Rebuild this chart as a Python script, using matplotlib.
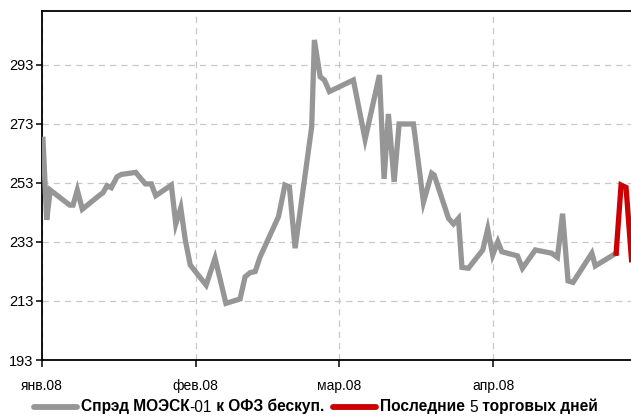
import matplotlib
matplotlib.use("Agg")
import matplotlib.pyplot as plt
from matplotlib.lines import Line2D
import pandas as pd

plt.rcParams['font.family'] = ['Liberation Sans Narrow', 'Liberation Sans', 'DejaVu Sans']

start_date = "2008-01-01"
# day offsets from start date and spread values (bp)
spread_days = [0.2, 0.95, 1.67, 5.59, 6.26, 7.12, 8.13, 11.64, 12.31, 13.12, 13.98,
               15.13, 16.0, 18.9, 20.84, 22.05, 22.94, 26.09, 26.98, 27.99, 28.9,
               29.9, 33.1, 34.9, 37.1, 39.95, 40.96, 41.97, 43.0, 44.0, 47.7,
               49.0, 49.9, 51.05, 54.4, 54.94, 56.1, 56.96, 57.97, 62.8, 65.17,
               68.06, 69.0, 69.87, 71.03, 72.03, 74.92, 76.94, 78.6, 79.1, 82.0,
               83.0, 84.0, 84.7, 86.0, 88.9, 89.9, 90.9, 91.95, 92.75, 95.9,
               96.9, 99.5, 102.8, 103.96, 105.0, 106.1, 107.1, 110.9, 111.6, 115.8]
spread_vals = [267.8, 240.5, 250.6, 245.5, 245.5, 250.6, 244.1, 248.9, 249.7, 252.1, 251.4,
               255.1, 255.9, 256.6, 252.7, 252.7, 248.7, 252.3, 239.1, 244.6, 233.7,
               225.2, 218.4, 227.5, 212.2, 213.7, 221.2, 222.6, 223.0, 228.0, 241.6,
               252.3, 251.7, 230.9, 272.1, 301.5, 289.0, 287.9, 284.0, 287.9, 267.8,
               289.6, 254.4, 276.4, 253.4, 273.0, 273.0, 246.5, 256.3, 255.7, 241.0,
               239.1, 241.0, 224.4, 224.1, 230.3, 237.4, 228.6, 233.1, 229.7, 228.3,
               224.1, 230.3, 229.2, 227.8, 242.6, 219.8, 219.3, 229.2, 224.9, 229.2]
last_days = [115.8, 116.8, 117.8, 118.9]
last_vals = [229.2, 252.3, 251.5, 227.0]

y_ticks = [193, 213, 233, 253, 273, 293]
month_ticks = ["2008-01-01", "2008-02-01", "2008-03-01", "2008-04-01"]
month_labels = ["янв.08", "фев.08", "мар.08", "апр.08"]
# legend label pieces: (text, bold?)
label_spread = [("Спрэд МОЭСК", True), ("-01", False), (" к ОФЗ бескуп.", True)]
label_last = [("Последние ", True), ("5", False), (" торговых дней", True)]

t0 = pd.Timestamp(start_date)
x_spread = [t0 + pd.Timedelta(days=d) for d in spread_days]
x_last = [t0 + pd.Timedelta(days=d) for d in last_days]

W, H = 631, 417
fig = plt.figure(figsize=(W / 100, H / 100), dpi=100)
ax = fig.add_axes([42 / W, 1 - 360 / H, 1 - 42 / W, (360 - 11) / H])

gray = "#969696"
red = "#cc0000"
lw = 3.8
ax.plot(x_spread, spread_vals, color=gray, lw=lw, solid_joinstyle='miter', zorder=3)
ax.plot(x_last, last_vals, color=red, lw=lw, solid_joinstyle='miter', zorder=4)

ax.set_ylim(193, 311.3)
ax.set_xlim(t0, t0 + pd.Timedelta(days=118.8))
ax.set_yticks(y_ticks)
ax.set_yticklabels([str(v) for v in y_ticks], fontsize=10.5)
ax.set_xticks([pd.Timestamp(m) for m in month_ticks])
ax.set_xticklabels(month_labels, fontsize=10)

ax.grid(True, color="#c8c8c8", linestyle=(0, (5, 4)), linewidth=0.9)
ax.set_axisbelow(True)
for s in ["left", "bottom", "top"]:
    ax.spines[s].set_linewidth(1.3)
    ax.spines[s].set_color("black")
ax.spines["right"].set_visible(False)
ax.tick_params(axis='y', direction='out', length=4, width=1.1, pad=2)
ax.tick_params(axis='x', direction='out', length=5, width=1.1, pad=9)

# manual legend with mixed-weight labels
leg_y = 1 - 407 / H
fs = 11.2


def chain(x_px, color, pieces):
    fig.add_artist(Line2D([x_px / W, (x_px + 43) / W], [leg_y, leg_y], color=color,
                          lw=4.2, solid_capstyle='round', transform=fig.transFigure))
    prev = fig.text((x_px + 47) / W, leg_y, pieces[0][0], fontsize=fs,
                    weight='bold' if pieces[0][1] else 'normal', va='center', ha='left')
    for txt, bold in pieces[1:]:
        prev = ax.annotate(txt, xy=(1, 0), xycoords=prev, va='bottom', ha='left',
                           fontsize=fs, weight='bold' if bold else 'normal',
                           annotation_clip=False)
    return prev


last_piece = chain(34, gray, label_spread)
fig.canvas.draw()
bb = last_piece.get_window_extent(renderer=fig.canvas.get_renderer())
chain(bb.x1 + 9, red, label_last)

fig.savefig("out.png", dpi=100)
